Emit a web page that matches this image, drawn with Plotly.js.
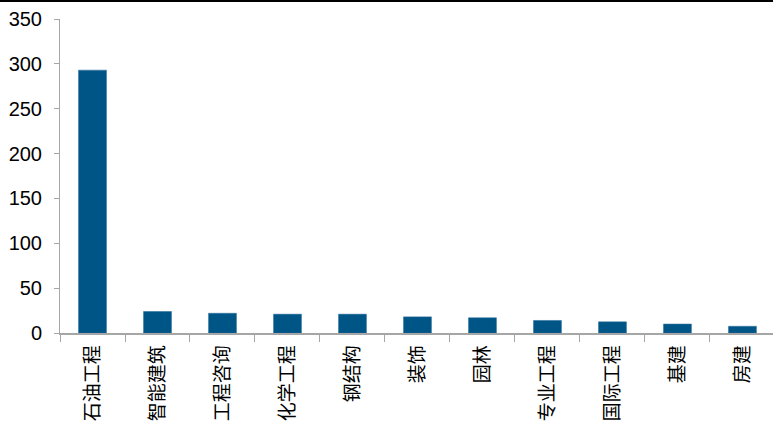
<!DOCTYPE html>
<html>
<head>
<meta charset="utf-8">
<script src="https://cdn.plot.ly/plotly-3.0.1.min.js"></script>
<style>
html,body{margin:0;padding:0;background:#fff;}
#chart{width:773px;height:428px;border-top:2px solid #000;}
</style>
</head>
<body>
<div id="chart"></div>
<script>
const categories = ["石油工程","智能建筑","工程咨询","化学工程","钢结构","装饰","园林","专业工程","国际工程","基建","房建"];
const values = [293, 24, 22, 21, 21, 18, 17, 14, 12.5, 10, 7.5];

const fontFamily = "'Liberation Sans', Arial, 'Noto Sans CJK SC', sans-serif";

Plotly.newPlot("chart", [{
  type: "bar",
  x: categories,
  y: values,
  marker: {color: "#005587", line: {color: "#2a6f9a", width: 0.5}},
  hoverinfo: "x+y"
}], {
  width: 773,
  height: 428,
  margin: {l: 60, r: 0, t: 17, b: 96.5},
  paper_bgcolor: "#fff",
  plot_bgcolor: "#fff",
  bargap: 0.57,
  showlegend: false,
  font: {family: fontFamily, color: "#000", size: 19},
  xaxis: {
    type: "category",
    range: [-0.5, 10.47],
    showline: true,
    linecolor: "#a6a6a6",
    linewidth: 1.5,
    ticks: "outside",
    tickson: "boundaries",
    ticklen: 7,
    tickcolor: "#a6a6a6",
    tickwidth: 1,
    tickangle: -90,
    ticklabelstandoff: 3,
    tickfont: {family: fontFamily, size: 19, color: "#000"},
    showgrid: false,
    zeroline: false
  },
  yaxis: {
    range: [0, 350],
    tickvals: [0, 50, 100, 150, 200, 250, 300, 350],
    showline: true,
    linecolor: "#a6a6a6",
    linewidth: 1,
    ticks: "outside",
    ticklen: 5,
    tickcolor: "#a6a6a6",
    ticklabelstandoff: 8,
    tickfont: {family: fontFamily, size: 20, color: "#000"},
    showgrid: false,
    zeroline: false
  }
}, {displayModeBar: false, staticPlot: false});
</script>
</body>
</html>
